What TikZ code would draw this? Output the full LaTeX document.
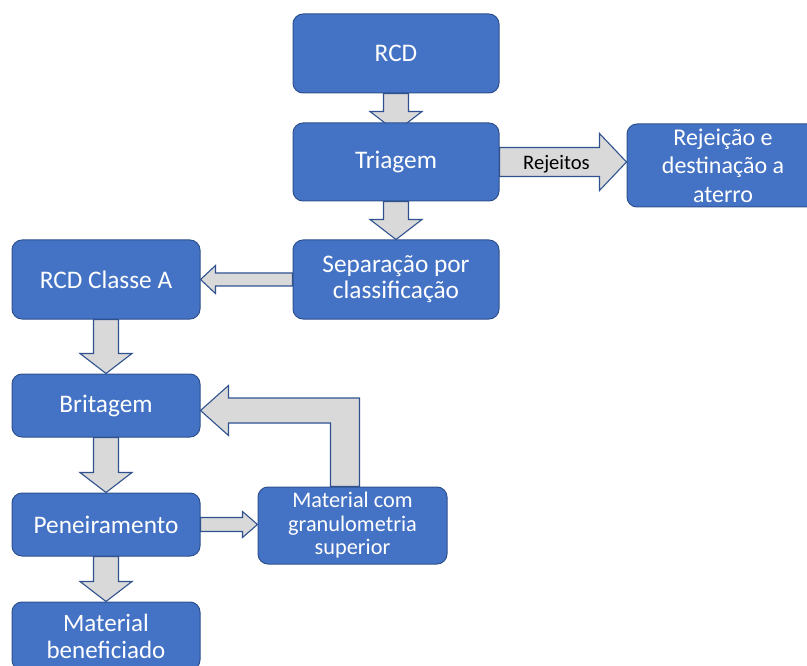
\documentclass[tikz,border=0pt]{standalone}
\usepackage{fontspec}
\setmainfont{Carlito}
\usetikzlibrary{calc}
\definecolor{kastenblau}{RGB}{68,114,196}
\definecolor{rand}{RGB}{47,82,143}
\definecolor{pfeilgrau}{RGB}{217,217,217}
\pgfdeclarelayer{hinten}
\pgfsetlayers{hinten,main}

% Blockpfeil nach unten: [ueberstand]{von}{nach}
\newcommand{\pfeilab}[3][0]{%
  \path (#2.south) coordinate (anf) (#2.south |- #3.north) ++(0,#1) coordinate (spitze);
  \draw[blockpfeil] ($(anf)+(-12.5,0)$) -- ($(spitze)+(-12.5,-20)$) -- ($(spitze)+(-26,-20)$) -- (spitze)
    -- ($(spitze)+(26,-20)$) -- ($(spitze)+(12.5,-20)$) -- ($(anf)+(12.5,0)$) -- cycle;}

% Blockpfeil waagerecht: {von}{nach}{schaft}{kopf}{kopflaenge}
\newcommand{\pfeilquer}[5]{%
  \path (#1) coordinate (anf) (#2 |- #1) coordinate (spitze);
  \coordinate (kb) at ($(spitze)!#5pt!(anf)$);
  \draw[blockpfeil] ($(anf)+(0,-#3)$) -- ($(kb)+(0,-#3)$) -- ($(kb)+(0,-#4)$) -- (spitze)
    -- ($(kb)+(0,#4)$) -- ($(kb)+(0,#3)$) -- ($(anf)+(0,#3)$) -- cycle;}

\begin{document}
\begin{tikzpicture}[x=1pt, y=-1pt,
  kasten/.style={draw=rand, fill=kastenblau, line width=1pt, rounded corners=10pt, text=white,
    align=center, inner sep=0pt, font=\fontsize{25.3}{26}\selectfont},
  blockpfeil/.style={draw=rand, fill=pfeilgrau, line width=1.1pt, line join=miter}]

	\useasboundingbox (0,0) rectangle (807,666);
	\clip (0,0) rectangle (807,666);

	% Hauptstrang
	\node[kasten, minimum width=206pt, minimum height=79pt] (R) at (396,53.5) {RCD};
	\node[kasten, minimum width=206pt, minimum height=78pt] (T) at (396,162) {Triagem};
	\node[kasten, minimum width=206pt, minimum height=79pt] (S) at (396,279.5) {Separação por\\classificação};

	% Rejeitos
	\node[kasten, minimum width=192pt, minimum height=83pt, font=\fontsize{24}{28.5}\selectfont] (J) at (723,165.5) {Rejeição e\\destinação a\\aterro};

	% Classe A
	\node[kasten, minimum width=188pt, minimum height=79pt] (A) at (106,279.5) {RCD Classe A};
	\node[kasten, minimum width=188pt, minimum height=63pt] (B) at (106,405.5) {Britagem};
	\node[kasten, minimum width=188pt, minimum height=63pt] (P) at (106,524.5) {Peneiramento};
	\node[kasten, minimum width=189pt, minimum height=77pt, font=\fontsize{22.3}{23.5}\selectfont] (M) at (352.5,525.5) {Material com\\granulometria\\superior};
	\node[kasten, minimum width=188pt, minimum height=68pt, font=\fontsize{25}{27}\selectfont] (MB) at (106,636) {Material\\beneficiado};

	% Pfeile
	\begin{pgfonlayer}{hinten}
		\pfeilab[9]{R}{T}
		\pfeilab{T}{S}
		\pfeilab{A}{B}
		\pfeilab{B}{P}
		\pfeilab{P}{MB}
		\pfeilquer{T.east}{J.west}{14.5}{28.5}{27}
		\pfeilquer{S.west}{A.east}{6.5}{14}{15}
		\pfeilquer{P.east}{M.west}{7}{13}{15}
		\coordinate (rueck) at ($(B.east)+(0,5)$);
		\draw[blockpfeil] ($(M.north)+(-22,0)$) |- ($(rueck)+(28,12.5)$) -- ($(rueck)+(28,25)$) -- (rueck)
			-- ($(rueck)+(28,-25)$) -- ($(rueck)+(28,-12.5)$) -| ($(M.north)+(7,0)$) -- cycle;
	\end{pgfonlayer}

	\node[font=\fontsize{20.6}{22}\selectfont] (rej) at ($(T.east)!0.5!(J.west)+(-6.5,0)$) {Rejeitos};

\end{tikzpicture}
\end{document}
